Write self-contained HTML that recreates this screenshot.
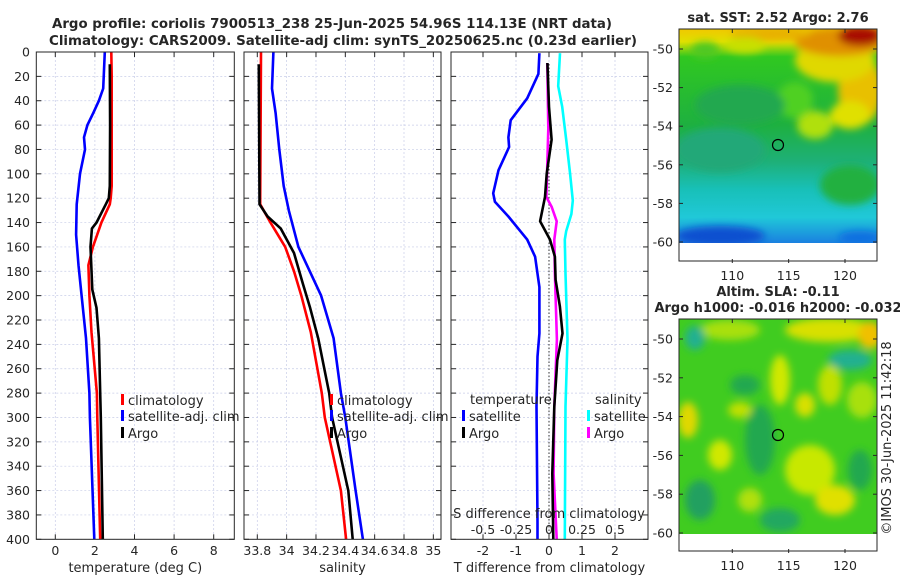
<!DOCTYPE html>
<html><head><meta charset="utf-8"><style>
html,body{margin:0;padding:0;background:#fff;}
svg{display:block;font-family:"DejaVu Sans","Liberation Sans",sans-serif;}
text{fill:#262626;}
</style></head><body>
<svg id="fig" width="900" height="580" viewBox="0 0 900 580" xmlns="http://www.w3.org/2000/svg">
<defs>
<filter id="blur6" x="-50%" y="-50%" width="200%" height="200%"><feGaussianBlur stdDeviation="6"/></filter>
<filter id="blur4" x="-50%" y="-50%" width="200%" height="200%"><feGaussianBlur stdDeviation="4"/></filter>
<clipPath id="clipM1"><rect x="679" y="29" width="198" height="214"/></clipPath>
<clipPath id="clipM2"><rect x="679" y="319" width="198" height="215"/></clipPath>
<linearGradient id="sstGrad" x1="0" y1="0" x2="0" y2="1">
<stop offset="0" stop-color="#f0c800"/><stop offset="0.06" stop-color="#e0e000"/>
<stop offset="0.13" stop-color="#30c820"/><stop offset="0.45" stop-color="#1eb040"/>
<stop offset="0.62" stop-color="#1eb078"/><stop offset="0.75" stop-color="#18c0b8"/>
<stop offset="0.88" stop-color="#20c8d8"/><stop offset="1" stop-color="#1a80e0"/>
</linearGradient>
</defs>
<text x="332" y="28" text-anchor="middle" font-weight="bold" font-size="13" textLength="560" lengthAdjust="spacingAndGlyphs">Argo profile: coriolis 7900513_238 25-Jun-2025 54.96S 114.13E (NRT data)</text>
<text x="343" y="45" text-anchor="middle" font-weight="bold" font-size="13" textLength="588" lengthAdjust="spacingAndGlyphs">Climatology: CARS2009. Satellite-adj clim: synTS_20250625.nc (0.23d earlier)</text>
<g id="panels"></g>

<!-- Map 1 -->
<g>
<g clip-path="url(#clipM1)">
<rect x="679" y="29" width="198" height="214" fill="url(#sstGrad)"/>
<g filter="url(#blur4)">
<ellipse cx="860" cy="90" rx="22" ry="35" fill="#e8c000"/>
<ellipse cx="835" cy="60" rx="40" ry="22" fill="#e0d800"/>
<ellipse cx="840" cy="42" rx="45" ry="14" fill="#e09000"/>
<ellipse cx="860" cy="36" rx="22" ry="10" fill="#a81000"/>
<ellipse cx="770" cy="34" rx="40" ry="7" fill="#e8b000"/>
<ellipse cx="705" cy="50" rx="14" ry="8" fill="#50c820"/>
<ellipse cx="745" cy="45" rx="20" ry="8" fill="#c8e000"/>
<ellipse cx="815" cy="125" rx="18" ry="14" fill="#b0e010"/>
<ellipse cx="850" cy="115" rx="20" ry="14" fill="#e0e000"/>
<ellipse cx="795" cy="100" rx="18" ry="18" fill="#50d020"/>
<ellipse cx="740" cy="105" rx="45" ry="20" fill="#20a850"/>
<ellipse cx="720" cy="150" rx="45" ry="22" fill="#20a878"/>
<ellipse cx="850" cy="185" rx="30" ry="20" fill="#20b040"/>
<ellipse cx="720" cy="236" rx="45" ry="10" fill="#1050d0"/>
<ellipse cx="860" cy="238" rx="22" ry="7" fill="#1070e0"/>
</g>
</g>
<rect x="679" y="243" width="198" height="18" fill="#fff"/>
<rect x="679" y="29" width="198" height="232" fill="none" stroke="#262626" stroke-width="1"/>
<circle cx="778" cy="145" r="5.5" fill="none" stroke="#000" stroke-width="1.2"/>
<text x="778" y="22" text-anchor="middle" font-weight="bold" font-size="13">sat. SST: 2.52 Argo: 2.76</text>
</g>

<!-- Map 2 -->
<g>
<g clip-path="url(#clipM2)">
<rect x="679" y="319" width="198" height="215" fill="#40cc20"/>
<g filter="url(#blur4)">
<ellipse cx="730" cy="330" rx="30" ry="10" fill="#a8e010"/>
<ellipse cx="830" cy="330" rx="45" ry="12" fill="#d8e000"/>
<ellipse cx="870" cy="335" rx="12" ry="14" fill="#f0c000"/>
<ellipse cx="695" cy="338" rx="10" ry="12" fill="#20b090"/>
<ellipse cx="850" cy="360" rx="22" ry="10" fill="#20b090"/>
<ellipse cx="780" cy="380" rx="10" ry="25" fill="#d0e800"/>
<ellipse cx="830" cy="385" rx="12" ry="20" fill="#c0e000"/>
<ellipse cx="862" cy="400" rx="15" ry="18" fill="#a8e010"/>
<ellipse cx="745" cy="385" rx="15" ry="10" fill="#20a850"/>
<ellipse cx="740" cy="410" rx="12" ry="8" fill="#c0e000"/>
<ellipse cx="805" cy="405" rx="10" ry="12" fill="#d8e000"/>
<ellipse cx="688" cy="420" rx="10" ry="18" fill="#e0d800"/>
<ellipse cx="720" cy="455" rx="12" ry="15" fill="#d0e800"/>
<ellipse cx="760" cy="440" rx="15" ry="35" fill="#20a850"/>
<ellipse cx="810" cy="470" rx="25" ry="25" fill="#c8e800"/>
<ellipse cx="835" cy="500" rx="20" ry="15" fill="#e0e000"/>
<ellipse cx="860" cy="470" rx="12" ry="20" fill="#20a850"/>
<ellipse cx="700" cy="500" rx="15" ry="20" fill="#20a060"/>
<ellipse cx="780" cy="520" rx="20" ry="12" fill="#20a860"/>
<ellipse cx="750" cy="500" rx="12" ry="12" fill="#b0e010"/>
</g>
</g>
<rect x="679" y="534" width="198" height="17" fill="#fff"/>
<rect x="679" y="319" width="198" height="232" fill="none" stroke="#262626" stroke-width="1"/>
<circle cx="778" cy="435" r="5.5" fill="none" stroke="#000" stroke-width="1.2"/>
<text x="778" y="296" text-anchor="middle" font-weight="bold" font-size="13">Altim. SLA: -0.11</text>
<text x="778" y="312" text-anchor="middle" font-weight="bold" font-size="13">Argo h1000: -0.016 h2000: -0.032</text>
</g>
<text x="0" y="0" transform="translate(891,438) rotate(-90)" text-anchor="middle" font-size="13">©IMOS 30-Jun-2025 11:42:18</text>
<g id="mapaxes"></g>
</svg>
<script>
const NS="http://www.w3.org/2000/svg";
// ---- data ----
const tempDepthClim=[0,20,60,100,110,120,125,140,160,175,200,230,280,300,400];
const tempClim=[2.83,2.85,2.85,2.85,2.85,2.8,2.75,2.33,1.9,1.67,1.72,1.83,2.1,2.12,2.27];
const tempDepthArgo=[10,60,110,120,125,140,145,160,195,210,235,280,300,400];
const tempArgo=[2.75,2.77,2.75,2.7,2.55,2.08,1.85,1.78,1.87,2.08,2.2,2.27,2.3,2.4];
const tempDepthSat=[0,30,40,50,60,70,80,100,125,150,175,200,235,280,300,400];
const tempSat=[2.5,2.42,2.2,1.92,1.62,1.45,1.5,1.25,1.08,1.05,1.17,1.33,1.55,1.72,1.75,1.97];
const salDepthClim=[0,120,125,140,160,180,200,230,280,300,360,400];
const salClim=[33.825,33.82,33.82,33.89,33.99,34.05,34.1,34.165,34.24,34.26,34.37,34.405];
const salDepthArgo=[10,120,125,135,145,165,190,210,235,280,300,360,400];
const salArgo=[33.81,33.815,33.815,33.87,33.96,34.05,34.11,34.16,34.215,34.29,34.31,34.42,34.45];
const salDepthSat=[0,30,50,80,110,130,160,200,235,280,300,360,400];
const salSat=[33.91,33.9,33.925,33.95,33.98,34.015,34.08,34.235,34.32,34.37,34.4,34.47,34.52];
const dTDepthSat=[1,18,38,56,70,78,97,116,123,135,154,168,193,231,250,291,386,400];
const dTSat=[-0.29,-0.32,-0.66,-1.16,-1.23,-1.21,-1.53,-1.69,-1.64,-1.23,-0.66,-0.42,-0.29,-0.29,-0.35,-0.38,-0.35,-0.35];
const dTDepthArgo=[9,45,72,100,119,139,154,168,187,209,231,253,291,346,400];
const dTArgo=[-0.05,0,0.08,-0.07,-0.12,-0.27,0.03,0.18,0.2,0.33,0.41,0.25,0.16,0.1,0.13];
const dSDepthArgo=[9,63,119,127,139,154,182,236,291,346,400];
const dSArgo=[-0.013,-0.005,-0.02,0.02,0.058,0.04,0.045,0.06,0.04,0.035,0.058];
const dSDepthSat=[1,28,45,72,100,122,133,147,154,182,236,291,400];
const dSSat=[0.083,0.07,0.1,0.13,0.16,0.18,0.17,0.13,0.12,0.125,0.14,0.125,0.12];
const depthTicks=[0,20,40,60,80,100,120,140,160,180,200,220,240,260,280,300,320,340,360,380,400];
const tempTicks=[0,2,4,6,8];
const salTicks=[33.8,34,34.2,34.4,34.6,34.8,35];
const salTickLabels=["33.8","34","34.2","34.4","34.6","34.8","35"];
const dTTicks=[-2,-1,0,1,2];
const dSTicks=[-0.5,-0.25,0,0.25,0.5];
const latTicks=[-50,-52,-54,-56,-58,-60];
const lonTicks=[110,115,120];

// ---- axes ----
const TOP=52, BOT=539.3;
const yD=d=>TOP+(BOT-TOP)*d/400;
const P1={x0:36.3,x1:234.3}, P2={x0:244,x1:441}, P3={x0:451,x1:648};
const xT=t=>55.3+19.8*t;
const xS=s=>257.3+146.7*(s-33.8);
const xDT=t=>549+33*t;
const xDS=s=>549+132*s;
const g=document.getElementById('panels');
function el(tag,attrs,parent){const e=document.createElementNS(NS,tag);for(const k in attrs)e.setAttribute(k,attrs[k]);(parent||g).appendChild(e);return e;}
function txt(x,y,s,anchor,size,parent){const e=el('text',{x:x,y:y,'text-anchor':anchor||'middle','font-size':size||12.5},parent);e.textContent=s;return e;}

function panel(name,P,xf,ticks,labels,xlabel){
  const grp=el('g',{});
  
  
  el('rect',{x:P.x0,y:TOP,width:P.x1-P.x0,height:BOT-TOP,fill:'#fff'},grp);
  depthTicks.forEach(d=>{
    el('line',{x1:P.x0,x2:P.x1,y1:yD(d),y2:yD(d),stroke:'#c8cde8','stroke-width':0.7,'stroke-dasharray':'2,2'},grp);
    el('line',{x1:P.x0,x2:P.x0+5,y1:yD(d),y2:yD(d),stroke:'#262626'},grp);
    el('line',{x1:P.x1-5,x2:P.x1,y1:yD(d),y2:yD(d),stroke:'#262626'},grp);
  });
  ticks.forEach((t,i)=>{
    const x=xf(t);
    el('line',{x1:x,x2:x,y1:TOP,y2:BOT,stroke:'#c8cde8','stroke-width':0.7,'stroke-dasharray':'2,2'},grp);
    el('line',{x1:x,x2:x,y1:BOT-5,y2:BOT,stroke:'#262626'},grp);
    el('line',{x1:x,x2:x,y1:TOP,y2:TOP+5,stroke:'#262626'},grp);
    const tl=txt(x,555,labels[i],'middle',12.5,grp);
    
    
  });
  const xl=txt((P.x0+P.x1)/2,572,xlabel,'middle',13,grp);
  
  
  return grp;
}
function line(grp,xs,ds,xf,color,name,w){
  const pts=xs.map((v,i)=>xf(v).toFixed(1)+','+yD(ds[i]).toFixed(1)).join(' ');
  const p=el('polyline',{points:pts,fill:'none',stroke:color,'stroke-width':w||2.6,'stroke-linejoin':'round'},grp);
  
  
}
function frame(grp,P){el('rect',{x:P.x0,y:TOP,width:P.x1-P.x0,height:BOT-TOP,fill:'none',stroke:'#262626','stroke-width':1},grp);}
function legend(grp,x,y,color,label,name){
  el('rect',{x:x,y:y-11,width:3,height:11,fill:color},grp);
  const t=txt(x+7,y,label,'start',13,grp);
  
  
}

// panel 1
const g1=panel('temperature-panel',P1,xT,tempTicks,tempTicks.map(String),'temperature (deg C)');
depthTicks.forEach(d=>{const t=txt(30,yD(d)+4.5,String(d),'end',12.5,g1);});
line(g1,tempSat,tempDepthSat,xT,'#0000ff','temp-satellite-line');
line(g1,tempClim,tempDepthClim,xT,'#ff0000','temp-climatology-line');
line(g1,tempArgo,tempDepthArgo,xT,'#000000','temp-argo-line');
frame(g1,P1);
legend(g1,121,405,'#ff0000','climatology','legend-climatology');
legend(g1,121,421,'#0000ff','satellite-adj. clim','legend-satellite-adj');
legend(g1,121,438,'#000000','Argo','legend-argo');

// panel 2
const g2=panel('salinity-panel',P2,xS,salTicks,salTickLabels,'salinity');
line(g2,salSat,salDepthSat,xS,'#0000ff','sal-satellite-line');
line(g2,salClim,salDepthClim,xS,'#ff0000','sal-climatology-line');
line(g2,salArgo,salDepthArgo,xS,'#000000','sal-argo-line');
frame(g2,P2);
legend(g2,330,405,'#ff0000','climatology','legend-climatology');
legend(g2,330,421,'#0000ff','satellite-adj. clim','legend-satellite-adj');
legend(g2,330,438,'#000000','Argo','legend-argo');

// panel 3
const g3=panel('difference-panel',P3,xDT,dTTicks,dTTicks.map(String),'T difference from climatology');
el('line',{x1:xDT(0),x2:xDT(0),y1:TOP+12,y2:BOT,stroke:'#333','stroke-width':1,'stroke-dasharray':'1.5,2'},g3);
line(g3,dTSat,dTDepthSat,xDT,'#0000ff','dT-satellite-line');
line(g3,dSSat,dSDepthSat,xDS,'#00ffff','dS-satellite-line');
line(g3,dSArgo,dSDepthArgo,xDS,'#ff00ff','dS-argo-line');
line(g3,dTArgo,dTDepthArgo,xDT,'#000000','dT-argo-line');
frame(g3,P3);
{const t=txt(470,404,'temperature','start',13,g3);}
{const t=txt(595,404,'salinity','start',13,g3);}
legend(g3,462,421,'#0000ff','satellite','legend-temp-satellite');
legend(g3,462,438,'#000000','Argo','legend-temp-argo');
legend(g3,587,421,'#00ffff','satellite','legend-sal-satellite');
legend(g3,587,438,'#ff00ff','Argo','legend-sal-argo');
{const t=txt(549,518,'S difference from climatology','middle',13,g3);}
dSTicks.forEach(s=>{const t=txt(xDS(s),534,String(s),'middle',12.5,g3);});

// map axes
const ma=document.getElementById('mapaxes');
function mapAxes(yTop,y50,y60,yLbl,name){
  const gg=el('g',{},ma);
  
  
  const step=(y60-y50)/10;
  latTicks.forEach(l=>{
    const y=y50+(-50-l)*step;
    el('line',{x1:679,x2:683,y1:y,y2:y,stroke:'#262626'},gg);
    el('line',{x1:873,x2:877,y1:y,y2:y,stroke:'#262626'},gg);
    const t=txt(673,y+4.5,String(l),'end',12.5,gg);
    
    
  });
  lonTicks.forEach(l=>{
    const x=732.3+11.27*(l-110);
    el('line',{x1:x,x2:x,y1:yLbl-17,y2:yLbl-21,stroke:'#262626'},gg);
    el('line',{x1:x,x2:x,y1:yTop,y2:yTop+4,stroke:'#262626'},gg);
    const t=txt(x,yLbl,String(l),'middle',12.5,gg);
    
    
  });
}
mapAxes(29,49,242,280,'sst-map-axes');
mapAxes(319,339,533,570,'sla-map-axes');
</script>
</body></html>
